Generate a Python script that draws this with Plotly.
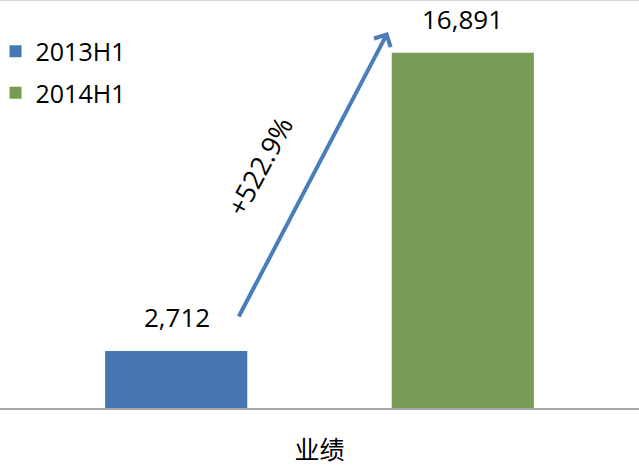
import plotly.graph_objects as go

categories = ["业绩"]
series_names = ["2013H1", "2014H1"]
values_2013 = [2712]
values_2014 = [16891]
growth_label = "+522.9%"
colors = ["#4677B1", "#7A9B56"]

FONT = "Open Sans, Noto Sans CJK SC, sans-serif"

fig = go.Figure()
fig.add_trace(go.Bar(name=series_names[0], x=categories, y=values_2013,
                     marker=dict(color=colors[0], line=dict(width=0)),
                     legendgroup="a"))
fig.add_trace(go.Bar(name=series_names[1], x=categories, y=values_2014,
                     marker=dict(color=colors[1], line=dict(width=0)),
                     legendgroup="b"))

# value labels above bars
for val, shift in [(values_2013[0], -143), (values_2014[0], 143)]:
    fig.add_annotation(x=categories[0], y=val, xref="x", yref="y",
                       text=f"{val:,}", showarrow=False, xshift=shift,
                       yanchor="bottom", yshift=14,
                       font=dict(family=FONT, size=26, color="#000000"))

# growth arrow
fig.add_annotation(x=388/639, y=(408-32)/408, xref="paper", yref="paper",
                   ax=-150, ay=286, axref="pixel", ayref="pixel",
                   text="", showarrow=True, arrowhead=4, arrowsize=0.9,
                   arrowwidth=4, arrowcolor="#4A7DBA")
fig.add_annotation(x=259/639, y=(408-166)/408, xref="paper", yref="paper",
                   text=growth_label, showarrow=False, textangle=-62,
                   font=dict(family=FONT, size=27, color="#000000"))

# faint top border
fig.add_shape(type="line", xref="paper", yref="paper", x0=0, x1=1, y0=1, y1=1,
              line=dict(color="#D9D9D9", width=2))

fig.update_layout(
    width=639, height=467,
    margin=dict(l=0, r=0, t=0, b=59, autoexpand=False),
    paper_bgcolor="white", plot_bgcolor="white",
    barmode="group", bargap=0.103, bargroupgap=0.504,
    showlegend=True,
    legend=dict(x=-0.007, y=0.93, xanchor="left", yanchor="top",
                font=dict(family=FONT, size=25, color="#000000"),
                tracegroupgap=6, traceorder="grouped",
                bgcolor="rgba(0,0,0,0)"),
    xaxis=dict(range=[-0.5, 0.5], showline=True, linecolor="#A6A6A6", linewidth=2,
               ticks="", ticklabelstandoff=19, automargin=False,
               tickfont=dict(family=FONT, size=25, color="#000000"),
               showgrid=False, zeroline=False, fixedrange=True),
    yaxis=dict(range=[0, 19400], visible=False, showgrid=False, zeroline=False,
               automargin=False),
)

fig.write_html("out.html", config={"displayModeBar": False},
               post_script="document.body.style.margin='0px';document.body.style.overflow='hidden';")
